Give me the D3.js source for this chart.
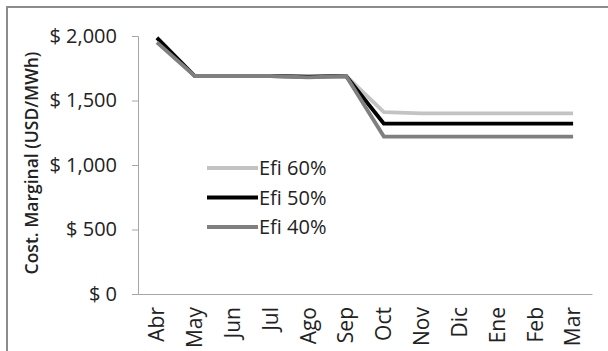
<!DOCTYPE html>
<html>
<head>
<meta charset="utf-8">
<script src="https://cdn.jsdelivr.net/npm/d3@7"></script>
<style>
  html, body { margin: 0; padding: 0; background: #fff; }
  svg { display: block; font-family: "Open Sans", sans-serif; }
</style>
</head>
<body>
<svg id="chart" width="608" height="351"></svg>
<script>
// Monthly marginal cost (USD/MWh) by efficiency scenario
const months = ["Abr", "May", "Jun", "Jul", "Ago", "Sep", "Oct", "Nov", "Dic", "Ene", "Feb", "Mar"];
const efi60 = [1990, 1690, 1690, 1690, 1685, 1690, 1410, 1400, 1400, 1400, 1400, 1400];
const efi50 = [1985, 1690, 1690, 1690, 1685, 1690, 1320, 1320, 1320, 1320, 1320, 1320];
const efi40 = [1950, 1690, 1690, 1690, 1680, 1690, 1220, 1220, 1220, 1220, 1220, 1220];
const yTicks = [0, 500, 1000, 1500, 2000];

const series = [
  { name: "Efi 60%", values: efi60, color: "#c3c3c3" },
  { name: "Efi 50%", values: efi50, color: "#000000" },
  { name: "Efi 40%", values: efi40, color: "#7f7f7f" }
];

const FONT = "'Open Sans', sans-serif";
const svg = d3.select("#chart");
const plot = { left: 138, right: 592, top: 36, bottom: 294 };

// Outer frame (top and left edges visible)
svg.append("path")
  .attr("d", "M7,351 L7,7 L608,7")
  .attr("fill", "none")
  .attr("stroke", "#8c8c8c")
  .attr("stroke-width", 2);

const x = d3.scaleBand().domain(months).range([plot.left, plot.right]);
const y = d3.scaleLinear().domain([0, 2000]).range([plot.bottom, plot.top]);

const fmt = v => "$ " + d3.format(",")(v);

// Y axis
const yAxis = svg.append("g")
  .attr("transform", `translate(${plot.left},0)`)
  .call(d3.axisLeft(y).tickValues(yTicks).tickFormat(fmt).tickSize(6).tickPadding(15));
yAxis.select(".domain").attr("stroke", "#a6a6a6");
yAxis.selectAll(".tick line").attr("stroke", "#a6a6a6");
yAxis.selectAll(".tick text").attr("font-size", 20).attr("fill", "#222")
  .attr("font-family", FONT);

// X axis
const xAxis = svg.append("g")
  .attr("transform", `translate(0,${plot.bottom})`)
  .call(d3.axisBottom(x).tickSize(0).tickSizeOuter(0));
xAxis.select(".domain").attr("stroke", "#a6a6a6");
xAxis.selectAll(".tick text")
  .attr("font-size", 21).attr("fill", "#222")
  .attr("font-family", FONT)
  .attr("transform", "rotate(-90)")
  .attr("text-anchor", "end")
  .attr("dy", "0.35em")
  .attr("dx", 0)
  .attr("x", -13)
  .attr("y", 0);

// Y axis title
svg.append("text")
  .attr("transform", `translate(32,${(plot.top + plot.bottom) / 2 - 2}) rotate(-90)`)
  .attr("text-anchor", "middle")
  .attr("dy", "0.35em")
  .attr("font-size", 17.5)
  .attr("font-weight", 600)
  .attr("fill", "#222")
  .text("Cost. Marginal (USD/MWh)");

// Lines
const line = d3.line()
  .x((d, i) => x(months[i]) + x.bandwidth() / 2)
  .y(d => y(d));

svg.append("g").selectAll("path")
  .data(series)
  .join("path")
  .attr("d", d => line(d.values))
  .attr("fill", "none")
  .attr("stroke", d => d.color)
  .attr("stroke-width", 3.8)
  .attr("stroke-linejoin", "round");

// Legend
const legend = svg.append("g").attr("transform", "translate(207,168)");
const items = legend.selectAll("g")
  .data(series)
  .join("g")
  .attr("transform", (d, i) => `translate(0,${i * 29.5})`);
items.append("line")
  .attr("x1", 0).attr("x2", 51)
  .attr("stroke", d => d.color)
  .attr("stroke-width", 4);
items.append("text")
  .attr("x", 52)
  .attr("dy", "0.35em")
  .attr("font-size", 20)
  .attr("fill", "#222")
  .text(d => d.name);
</script>
</body>
</html>
